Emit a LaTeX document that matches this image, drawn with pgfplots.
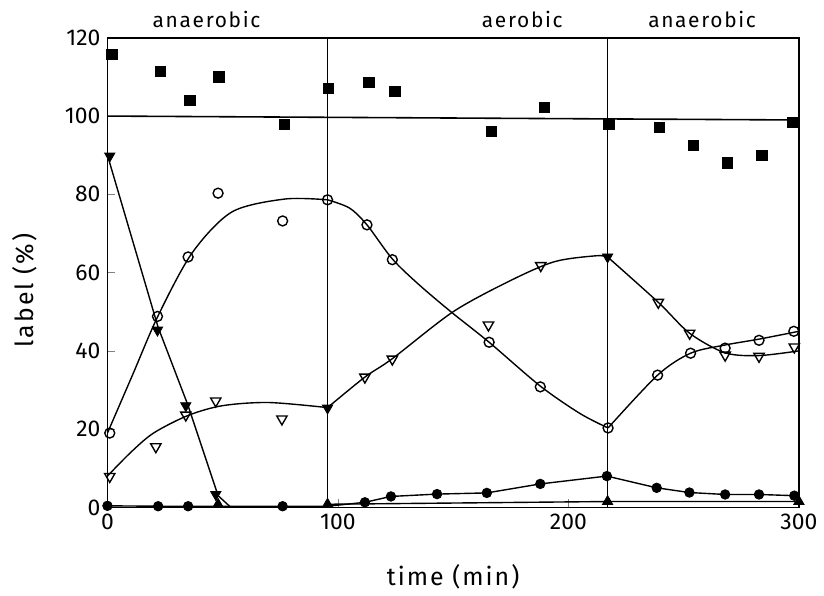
\documentclass[border=0pt]{standalone}
\usepackage{pgfplots}
\pgfplotsset{compat=1.18}
\usepackage{fontspec}
\setmainfont{Fira Sans}
\newfontfamily\spaced[LetterSpace=8]{Fira Sans}
\begin{document}
\fontsize{10}{12}\selectfont
\begin{tikzpicture}
\begin{axis}[
 scale only axis, width=347.5pt, height=236pt,
 xmin=0,xmax=300,ymin=0,ymax=120,
 xtick={0,100,200,300}, ytick={0,20,...,120},
 tick pos=left, tick align=inside, major tick length=4pt,
 xlabel={time (min)}, ylabel={label (\%)},
 xlabel style={at={(axis description cs:0.5,-0.148)}, anchor=center},
 ylabel style={at={(axis description cs:-0.12,0.462)}, anchor=center},
 /pgf/number format/assume math mode=true,
 tick label style={font=\fontsize{11.5}{13}\selectfont},
 label style={font=\spaced\fontsize{12.5}{14}\selectfont},
 axis line style={line width=0.8pt},
 clip=false,
]
% reference lines
\addplot[black, mark=none, line width=0.8pt] coordinates {(0,100) (300,99)};
\addplot[black, mark=none, line width=0.8pt] coordinates {(95.5,0) (95.5,120)};
\addplot[black, mark=none, line width=0.8pt] coordinates {(217,0) (217,120)};

% fitted curves
\addplot[black, mark=none, line width=0.7pt, smooth] coordinates {(0,19) (11,34) (22,49) (36.7,65) (54,75.5) (77,78.8) (95.5,78.6)};
\addplot[black, mark=none, line width=0.7pt, smooth] coordinates {(95.5,78.6) (105,76.5) (112.6,72.2) (123.6,63.5) (135,57) (149,50) (165.6,42.2) (187.8,31) (205,24) (217.2,20.3)};
\addplot[black, mark=none, line width=0.7pt, smooth] coordinates {(217.2,20.3) (238.7,33.8) (253,39.4) (268,41.5) (282.7,43) (300,45)};

\addplot[black, mark=none, line width=0.7pt, smooth] coordinates {(0,8) (10,14) (20,19) (35,23.5) (50,26) (70,26.8) (95.5,25.5)};
\addplot[black, mark=none, line width=0.7pt, smooth] coordinates {(95.5,25.5) (111.7,33.3) (123.6,38) (150,50) (175,58) (194,62.8) (212,64.3) (217,64)};
\addplot[black, mark=none, line width=0.7pt, smooth] coordinates {(217,64) (239,52.4) (252.6,44.5) (268,39.5) (282.7,38.8) (300,40)};

\addplot[black, mark=none, line width=0.7pt] coordinates {(0,90) (22,46) (35,26) (48,3) (53,0.3)};
\addplot[black, mark=none, line width=0.7pt] coordinates {(0,0.4) (22,0.3) (35,0.3) (48,0.3) (76,0.3) (95.5,0.3) (111.7,1.3) (123,2.8) (143,3.4) (164.6,3.7) (187.8,6) (216.7,8) (238.3,5) (252.5,3.8) (268,3.3) (282.7,3.3) (298,3)};
\addplot[black, mark=none, line width=0.7pt] coordinates {(95.5,0.8) (217,1.5) (300,1.5)};

% markers
\addplot[black, only marks, mark=square*, mark size=2.6pt] coordinates {
(2,115.7) (22.9,111.4) (35.8,104) (48.3,110) (76.8,97.9) (95.8,107) (113.5,108.6) (124.7,106.3)
(166.6,96.1) (189.5,102.2) (217.5,97.9) (239.5,97.1) (254.2,92.5) (268.9,88) (284,90) (297.4,98.4)};
\addplot[black, only marks, mark=o, mark size=2.5pt, mark options={fill=white, line width=0.7pt}] coordinates {
(1,19) (21.7,48.8) (35,64) (48,80.3) (76,73.2) (95.5,78.6) (112.6,72.2) (123.6,63.3)
(165.6,42.2) (187.8,30.8) (217.2,20.3) (238.7,33.8) (253,39.4) (268,40.7) (282.7,42.7) (297.8,45)};
\addplot[black, only marks, mark=triangle, mark size=3pt, mark options={rotate=180, fill=white, line width=0.7pt}] coordinates {
(1,7.9) (21,15.5) (34,23.6) (47,27.2) (75.7,22.6) (111.7,33.3) (123.6,37.9)
(165.3,46.6) (188,61.8) (239,52.4) (252.6,44.5) (268,38.9) (282.7,38.6) (298,41)};
\addplot[black, only marks, mark=triangle*, mark size=3pt, mark options={rotate=180}] coordinates {
(1,89.8) (21.7,45.3) (34,26) (47,3.3) (95.5,25.4) (217,64)};
\addplot[black, only marks, mark=*, mark size=2.4pt] coordinates {
(0,0.4) (22,0.3) (35,0.3) (76,0.3) (111.7,1.3) (123,2.8) (143,3.4) (164.6,3.7) (187.8,6)
(216.7,8) (238.3,5) (252.5,3.8) (268,3.3) (282.7,3.3) (298,3)};
\addplot[black, only marks, mark=triangle*, mark size=3pt] coordinates {
(48,0.8) (95.5,0.8) (217,1.5) (300,1.5)};

% phase labels
\node[anchor=base, yshift=5pt, font=\spaced\fontsize{10.5}{12}\selectfont] at (axis cs:43,120) {anaerobic};
\node[anchor=base, yshift=5pt, font=\spaced\fontsize{10.5}{12}\selectfont] at (axis cs:180,120) {aerobic};
\node[anchor=base, yshift=5pt, font=\spaced\fontsize{10.5}{12}\selectfont] at (axis cs:258,120) {anaerobic};

% frame the page
\path (rel axis cs:0,0) ++(-54pt,-42.5pt) coordinate (bl);
\path (rel axis cs:1,1) ++(10.5pt,19pt) coordinate (tr);
\path (bl) rectangle (tr);
\end{axis}
\end{tikzpicture}
\end{document}
